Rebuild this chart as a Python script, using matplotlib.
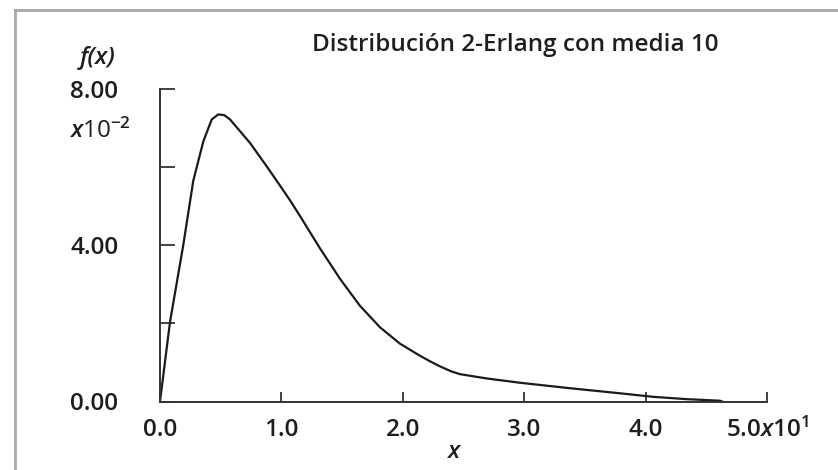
"""
2-Erlang density with mean 10, redrawn from a scanned textbook figure.
x is in units of 10 (x10^1), f(x) in units of 10^-2.
"""
import matplotlib
matplotlib.use("Agg")
import matplotlib.pyplot as plt
from matplotlib.lines import Line2D

plt.rcParams["font.family"] = ["Open Sans", "DejaVu Sans"]
plt.rcParams["mathtext.fontset"] = "custom"
plt.rcParams["mathtext.rm"] = "Open Sans:semibold"
plt.rcParams["mathtext.it"] = "Open Sans:italic:semibold"

# curve
x_vals = [0.0, 0.082, 0.192, 0.274, 0.357, 0.426, 0.480, 0.530, 0.577, 0.741, 0.879,
          0.988, 1.071, 1.153, 1.318, 1.483, 1.647, 1.812, 1.977, 2.142, 2.224,
          2.306, 2.400, 2.471, 2.691, 2.965, 3.377, 3.789, 4.061, 4.338, 4.613, 4.63]
f_vals = [0.0, 2.03, 4.01, 5.65, 6.66, 7.22, 7.35, 7.33, 7.22, 6.62, 6.02,
          5.53, 5.15, 4.75, 3.92, 3.14, 2.45, 1.90, 1.48, 1.17, 1.03,
          0.90, 0.77, 0.70, 0.59, 0.48, 0.34, 0.21, 0.12, 0.06, 0.02, 0.0]

x_ticks = [0, 1, 2, 3, 4, 5]
x_labels = ["0.0", "1.0", "2.0", "3.0", "4.0", r"5.0$\mathit{x}$10$^{1}$"]
y_ticks = [0, 2, 4, 6, 8]
y_labels = ["0.00", "", "4.00", "", "8.00"]

title = "Distribución 2-Erlang con media 10"

W, H = 838, 470
FS = 17.5
INK = "#1e1e1e"
fig = plt.figure(figsize=(W / 100, H / 100), dpi=100)
ax = fig.add_axes([160 / W, (H - 401.5) / H, 607 / W, 312.5 / H])

ax.plot(x_vals, f_vals, color="#1a1a1a", linewidth=1.6, solid_joinstyle="round")
ax.set_xlim(0, 5)
ax.set_ylim(0, 8)

for side in ("top", "right"):
    ax.spines[side].set_visible(False)
for side in ("left", "bottom"):
    ax.spines[side].set_color("#333333")
    ax.spines[side].set_linewidth(1.4)

ax.set_xticks(x_ticks)
ax.set_xticklabels(x_labels)
ax.set_yticks(y_ticks)
ax.set_yticklabels(y_labels)
ax.tick_params(axis="x", direction="in", length=7, width=1.3, color="#333333",
               pad=12, labelsize=FS)
ax.tick_params(axis="y", direction="in", length=11, width=1.3, color="#333333",
               pad=30, labelsize=FS)
for lbl in ax.get_xticklabels() + ax.get_yticklabels():
    lbl.set_fontweight("semibold")
    lbl.set_color(INK)

ax.patch.set_alpha(0)

fig.text(98 / W, 1 - 58 / H, "f(x)", fontsize=FS, style="italic",
         fontweight="semibold", color=INK, ha="center", va="center")
fig.text(100 / W, 1 - 131 / H, r"$\mathit{x}$10$^{-2}$", fontsize=FS,
         color=INK, ha="center", va="center")
fig.text(515 / W, 1 - 45 / H, title, fontsize=FS, fontweight="semibold",
         color=INK, ha="center", va="center")
fig.text(453 / W, 1 - 452 / H, "x", fontsize=FS, style="italic",
         fontweight="semibold", color=INK, ha="center", va="center")

# grey frame on the top and left edges of the scan
fig.add_artist(Line2D([15 / W, 15 / W], [0, 1 - 10 / H], transform=fig.transFigure,
                      color="#a8a8a8", linewidth=2))
fig.add_artist(Line2D([15 / W, 1], [1 - 10 / H, 1 - 10 / H], transform=fig.transFigure,
                      color="#a8a8a8", linewidth=2))

fig.savefig("out.png", dpi=100)
